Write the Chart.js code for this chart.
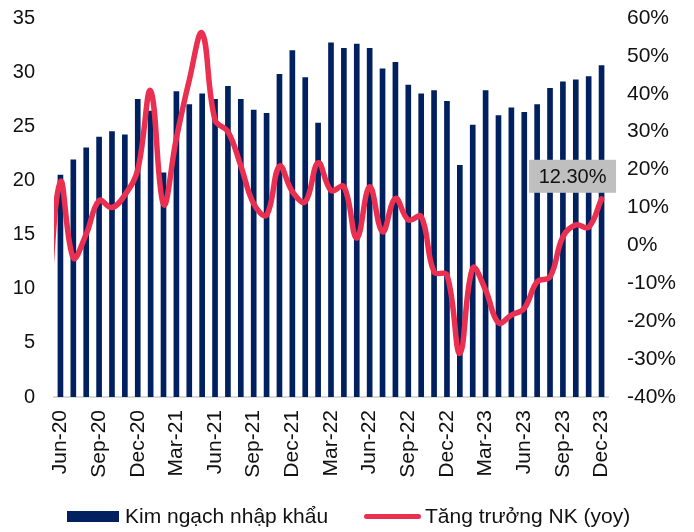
<!DOCTYPE html>
<html>
<head>
<meta charset="utf-8">
<script src="https://cdn.jsdelivr.net/npm/chart.js@4.4.1/dist/chart.umd.min.js"></script>
<style>
  html, body { margin: 0; padding: 0; background: #ffffff; }
  #wrap { position: relative; width: 694px; height: 532px; font-family: "Liberation Sans", Arial, sans-serif; color: #111; }
  #c { position: absolute; left: 0; top: 0; }
  .lg-box { position: absolute; left: 67px; top: 511px; width: 52px; height: 11px; background: #002060; }
  .lg-line { position: absolute; left: 364px; top: 514px; width: 57px; height: 5px; border-radius: 3px; background: #ea2f50; }
  .lg-text { position: absolute; top: 503px; font-size: 21px; line-height: 26px; white-space: nowrap; }
</style>
</head>
<body>
<div id="wrap">
  <canvas id="c" width="694" height="532"></canvas>
  <div class="lg-box"></div><div class="lg-text" style="left:125px">Kim ngạch nhập khẩu</div>
  <div class="lg-line"></div><div class="lg-text" style="left:425px">Tăng trưởng NK (yoy)</div>
</div>
<script>
const categories = [
  "Jun-20","Jul-20","Aug-20","Sep-20","Oct-20","Nov-20","Dec-20",
  "Jan-21","Feb-21","Mar-21","Apr-21","May-21","Jun-21","Jul-21","Aug-21","Sep-21","Oct-21","Nov-21","Dec-21",
  "Jan-22","Feb-22","Mar-22","Apr-22","May-22","Jun-22","Jul-22","Aug-22","Sep-22","Oct-22","Nov-22","Dec-22",
  "Jan-23","Feb-23","Mar-23","Apr-23","May-23","Jun-23","Jul-23","Aug-23","Sep-23","Oct-23","Nov-23","Dec-23"
];
// Import turnover (left axis)
const importValue = [
  20.5, 21.9, 23.0, 24.0, 24.5, 24.2, 27.5,
  26.4, 20.7, 28.2, 27.0, 28.0, 27.5, 28.7, 27.5, 26.5, 26.2, 29.8, 32.0,
  29.5, 25.3, 32.7, 32.2, 32.6, 32.2, 30.3, 30.9, 28.8, 28.0, 28.3, 27.3,
  21.4, 25.1, 28.3, 26.0, 26.7, 26.3, 27.0, 28.5, 29.1, 29.3, 29.6, 30.6
];
// Import growth yoy, % (right axis)
const growthYoY = [
  16.8, -3.3, 3.0, 11.8, 10.0, 13.3, 20.0,
  40.8, 10.8, 28.3, 43.6, 56.0, 33.1, 30.0, 21.0, 11.0, 8.0, 20.9, 14.2,
  11.5, 21.8, 14.5, 15.5, 1.9, 15.5, 3.6, 12.4, 6.7, 7.6, -7.0, -7.8,
  -28.5, -6.0, -11.8, -20.4, -18.4, -16.6, -9.6, -8.3, 2.3, 5.4, 4.8, 12.3
];
// The month before the plotted range (only its curve tail enters the plot)
const prevLabel = "May-20";
const prevGrowth = -17;

const leftTicks = { min: 0, max: 35, step: 5 };
const rightTicks = { min: -40, max: 60, step: 10 };

const allLabels = [prevLabel].concat(categories);
const barData = [null].concat(importValue);
const lineData = [prevGrowth].concat(growthYoY);

const FAMILY = "'Liberation Sans', Arial, sans-serif";
const FONT = { family: FAMILY, size: 20 };
const FONT21 = { family: FAMILY, size: 21 };
const TXT = '#111111';

const lastLabelPlugin = {
  id: 'lastLabel',
  afterDatasetsDraw(chart) {
    const meta = chart.getDatasetMeta(1);
    const pt = meta.data[meta.data.length - 1];
    if (!pt) return;
    const ctx = chart.ctx;
    const txt = growthYoY[growthYoY.length - 1].toFixed(2) + '%';
    ctx.save();
    ctx.font = "20px " + FAMILY;
    const w = 87, h = 33;
    const cx = pt.x - 29, bottom = pt.y - 6;
    ctx.fillStyle = '#bfbfbf';
    ctx.fillRect(cx - w / 2, bottom - h, w, h);
    ctx.fillStyle = TXT;
    ctx.textAlign = 'center';
    ctx.textBaseline = 'middle';
    ctx.fillText(txt, cx, bottom - h / 2 + 1);
    ctx.restore();
  }
};

function fixVertical(width) {
  return function (s) {
    s.width = width;
    s.paddingTop = 12;
    s.paddingBottom = 12;
  };
}

new Chart(document.getElementById('c'), {
  type: 'bar',
  data: {
    labels: allLabels,
    datasets: [
      {
        type: 'bar',
        label: 'Kim ngạch nhập khẩu',
        data: barData,
        backgroundColor: '#002060',
        borderWidth: 0,
        barThickness: 5,
        yAxisID: 'y',
        order: 2
      },
      {
        type: 'line',
        label: 'Tăng trưởng NK (yoy)',
        data: lineData,
        borderColor: '#ea2f50',
        backgroundColor: '#ea2f50',
        borderWidth: 5.5,
        pointRadius: 0,
        tension: 0.4,
        capBezierPoints: false,
        borderCapStyle: 'round',
        yAxisID: 'y2',
        order: 1
      }
    ]
  },
  options: {
    responsive: false,
    devicePixelRatio: 1,
    animation: false,
    layout: { padding: { left: 0, right: 0, top: 18, bottom: 55 } },
    plugins: { legend: { display: false }, tooltip: { enabled: false } },
    scales: {
      x: {
        type: 'category',
        min: categories[0],
        offset: true,
        grid: { display: true, color: 'rgba(0,0,0,0)', drawTicks: false },
        border: { display: true, color: '#d9d9d9', width: 2 },
        ticks: {
          autoSkip: false,
          minRotation: 90,
          maxRotation: 90,
          padding: 13,
          color: TXT,
          font: FONT21,
          callback: function (v) { return (v - 1) % 3 === 0 ? allLabels[v] : ''; }
        },
        afterFit: function (s) { s.height = 80; }
      },
      y: {
        position: 'left',
        min: leftTicks.min,
        max: leftTicks.max,
        grid: { display: false, drawTicks: false },
        border: { display: false },
        ticks: { stepSize: leftTicks.step, padding: 19, color: TXT, font: FONT },
        afterFit: fixVertical(54)
      },
      y2: {
        position: 'right',
        min: rightTicks.min,
        max: rightTicks.max,
        grid: { display: false, drawTicks: false },
        border: { display: false },
        ticks: { stepSize: rightTicks.step, padding: 19, color: TXT, font: FONT21,
          callback: function (v) { return v + '%'; } },
        afterFit: fixVertical(86)
      }
    }
  },
  plugins: [lastLabelPlugin]
});
</script>
</body>
</html>
